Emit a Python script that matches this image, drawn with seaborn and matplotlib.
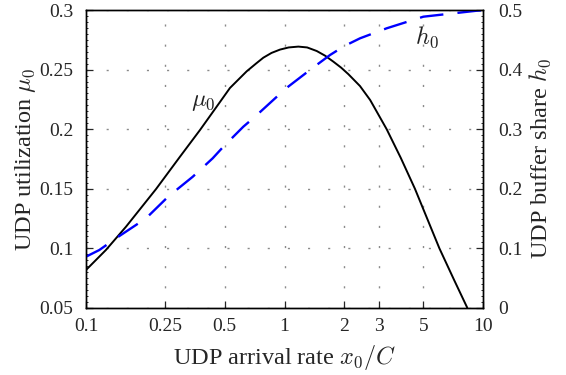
import matplotlib
matplotlib.use("Agg")
import matplotlib.pyplot as plt
import matplotlib.ticker as mticker
import seaborn as sns
import pandas as pd

# ---- data ----
mu_x = [0.1, 0.126, 0.159, 0.2253, 0.2976, 0.375, 0.455, 0.531, 0.645, 0.72, 0.782, 0.86,
        0.949, 1.05, 1.174, 1.3, 1.453, 1.6, 1.761, 1.93, 2.096, 2.4, 2.70, 3.27, 3.85,
        4.54, 6.03, 7.15, 8.34]
mu_y = [0.0819, 0.0987, 0.1182, 0.1498, 0.177, 0.1993, 0.2189, 0.2346, 0.2486, 0.2552, 0.2600, 0.2640,
        0.2668, 0.2686, 0.2693, 0.2686, 0.2656, 0.2617, 0.2567, 0.2516, 0.2462, 0.2362, 0.2245, 0.2, 0.176,
        0.15, 0.10, 0.0735, 0.05]

h_x = [0.1, 0.1167, 0.1416, 0.2006, 0.259, 0.345, 0.4346, 0.4916, 0.62, 0.71,
       0.896, 1.026, 1.344, 1.695, 2.0, 2.4, 3.27, 5.005, 9.29, 10.0]
h_y = [0.0861, 0.0973, 0.117, 0.1505, 0.1867, 0.2203, 0.2512, 0.2706, 0.3042, 0.321,
       0.3518, 0.3695, 0.3995, 0.4245, 0.4395, 0.4525, 0.4693, 0.4888, 0.4988, 0.4995]

x_ticks = [0.1, 0.25, 0.5, 1, 2, 3, 5, 10]
x_ticklabels = ["0.1", "0.25", "0.5", "1", "2", "3", "5", "10"]
yl_ticks = [0.05, 0.1, 0.15, 0.2, 0.25, 0.3]
yl_ticklabels = ["0.05", "0.1", "0.15", "0.2", "0.25", "0.3"]
yr_ticks = [0, 0.1, 0.2, 0.3, 0.4, 0.5]
yr_ticklabels = ["0", "0.1", "0.2", "0.3", "0.4", "0.5"]

mu_df = pd.DataFrame({"x": mu_x, "y": mu_y})
h_df = pd.DataFrame({"x": h_x, "y": h_y})

sns.set_theme(style="white")
plt.rcParams["font.family"] = ["Liberation Serif", "DejaVu Serif"]
plt.rcParams["mathtext.fontset"] = "cm"
plt.rcParams["axes.edgecolor"] = "black"
plt.rcParams["axes.linewidth"] = 1.0

fig = plt.figure(figsize=(5.66, 3.75), dpi=100)
ax = fig.add_axes([0.152, 0.1787, 0.7014, 0.7946])
ax2 = ax.twinx()

sns.lineplot(data=mu_df, x="x", y="y", ax=ax, color="black", lw=1.4, sort=False,
             solid_joinstyle="round")
sns.lineplot(data=h_df, x="x", y="y", ax=ax2, color="#0000ff", lw=1.7, sort=False,
             dashes=False, linestyle=(0, (10, 6)), dash_joinstyle="round")

ax.set_xscale("log")
ax.set_xlim(0.1, 10)
ax.set_ylim(0.05, 0.3)
ax2.set_ylim(0, 0.5)

ax.xaxis.set_major_locator(mticker.FixedLocator(x_ticks))
ax.xaxis.set_major_formatter(mticker.FixedFormatter(x_ticklabels))
ax.xaxis.set_minor_locator(mticker.NullLocator())
ax.set_yticks(yl_ticks)
ax.set_yticklabels(yl_ticklabels)
ax.yaxis.set_minor_locator(mticker.MultipleLocator(0.005))
ax2.set_yticks(yr_ticks)
ax2.set_yticklabels(yr_ticklabels)
ax2.yaxis.set_minor_locator(mticker.MultipleLocator(0.01))

fs_tick = 14
fs_lab = 17.5
ax.tick_params(axis="x", which="major", direction="in", length=5, width=0.9,
               labelsize=fs_tick, pad=7.5, bottom=True, top=False)
ax.tick_params(axis="y", which="major", direction="in", length=5, width=0.9,
               labelsize=fs_tick, pad=9, left=True, right=False)
ax.tick_params(axis="y", which="minor", direction="in", length=1.5, width=0.7, left=True)
ax2.tick_params(axis="y", which="major", direction="in", length=5, width=0.9,
                labelsize=fs_tick, pad=11, right=True, left=False)
ax2.tick_params(axis="y", which="minor", direction="in", length=1.5, width=0.7, right=True)

ax.grid(True, which="major", color="#8a8a8a", linestyle=(0, (1.5, 13)), lw=1.0)
ax2.grid(False)

ax.set_xlabel(r"UDP arrival rate $x_0/C$", fontsize=fs_lab)
ax.set_ylabel(r"UDP utilization $\mu_0$", fontsize=fs_lab)
ax2.set_ylabel(r"UDP buffer share $h_0$", fontsize=fs_lab)
ax.xaxis.set_label_coords(0.5, -0.116)
ax.yaxis.set_label_coords(-0.121, 0.5)
ax2.yaxis.set_label_coords(1.112, 0.5)

ax.text(0.388, 0.2228, r"$\mu_0$", fontsize=fs_lab, ha="center", va="center", color="#222222")
ax.text(5.22, 0.2773, r"$h_0$", fontsize=fs_lab, ha="center", va="center", color="#222222")

for a in (ax, ax2):
    for s in a.spines.values():
        s.set_color("black")
        s.set_linewidth(1.0)

fig.savefig("out.png", dpi=100)
